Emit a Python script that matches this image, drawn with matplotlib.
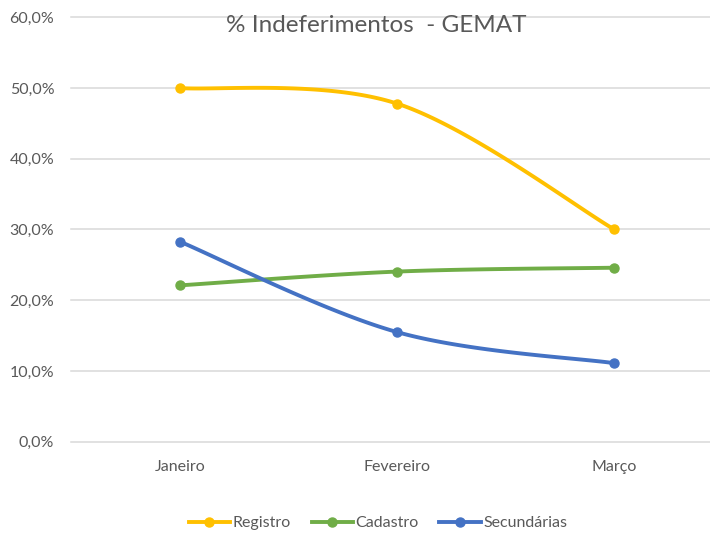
import numpy as np
import matplotlib
matplotlib.use("Agg")
import matplotlib.pyplot as plt
from matplotlib.ticker import FuncFormatter
from matplotlib.lines import Line2D

categories = ["Janeiro", "Fevereiro", "Março"]
registro = [50.0, 47.8, 30.0]
cadastro = [22.1, 24.05, 24.6]
secundarias = [28.3, 15.5, 11.1]
series_names = ["Registro", "Cadastro", "Secundárias"]
colors = ["#FFC000", "#70AD47", "#4472C4"]
title = "% Indeferimentos  - GEMAT"

plt.rcParams['font.family'] = ['Lato', 'DejaVu Sans']

fig = plt.figure(figsize=(7.1, 5.33), dpi=100)
ax = fig.add_axes([71/710, 91.3/533, 1 - 71/710, (515.7 - 91.3)/533])
ax.set_xlim(-0.5, 2.44)
ax.set_ylim(0, 60)

# pixel scale for Excel-like smoothing
sx = 217.0
sy = 7.07

def smooth(xs, ys, n=60):
    P = np.column_stack([np.asarray(xs, float) * sx, np.asarray(ys, float) * sy])
    Pext = np.vstack([P[0], P, P[-1]])
    out = []
    for i in range(len(P) - 1):
        p0, p1, p2, p3 = Pext[i], Pext[i+1], Pext[i+2], Pext[i+3]
        c1 = p1 + (p2 - p0) / 6.0
        c2 = p2 - (p3 - p1) / 6.0
        t = np.linspace(0, 1, n)[:, None]
        b = ((1-t)**3) * p1 + 3*((1-t)**2)*t*c1 + 3*(1-t)*t**2*c2 + t**3 * p2
        out.append(b if i == 0 else b[1:])
    B = np.vstack(out)
    return B[:, 0] / sx, B[:, 1] / sy

x = np.arange(len(categories))
for ys, c in zip([registro, cadastro, secundarias], colors):
    xs_s, ys_s = smooth(x, ys)
    ax.plot(xs_s, ys_s, color=c, lw=2.8, solid_capstyle='round', zorder=3)
    ax.plot(x, ys, 'o', color=c, ms=6.5, zorder=4)

ax.set_yticks(np.arange(0, 61, 10))
ax.yaxis.set_major_formatter(FuncFormatter(lambda v, p: f"{v:.1f}%".replace('.', ',')))
ax.set_xticks(x)
ax.set_xticklabels(categories)
ax.grid(axis='y', color='#D9D9D9', lw=1.1)
for gl in ax.get_ygridlines():
    gl.set_clip_on(False)
ax.set_axisbelow(True)
for s in ax.spines.values():
    s.set_visible(False)
ax.tick_params(axis='both', length=0, colors='#595959', labelsize=11.5)
ax.tick_params(axis='y', pad=12)
ax.tick_params(axis='x', pad=13)

fig.text(376/710, 1 - 25/533, title, ha='center', va='center', fontsize=17.5, color='#595959')

handles = [Line2D([0], [0], color=c, lw=2.8, marker='o', ms=6.5) for c in colors]
fig.legend(handles, series_names, loc='center', bbox_to_anchor=(378/710, 1 - 523/533),
           ncol=3, frameon=False, fontsize=11.5, labelcolor='#595959',
           handlelength=2.6, handletextpad=0.15, columnspacing=1.3)

fig.savefig("out.png", dpi=100)
